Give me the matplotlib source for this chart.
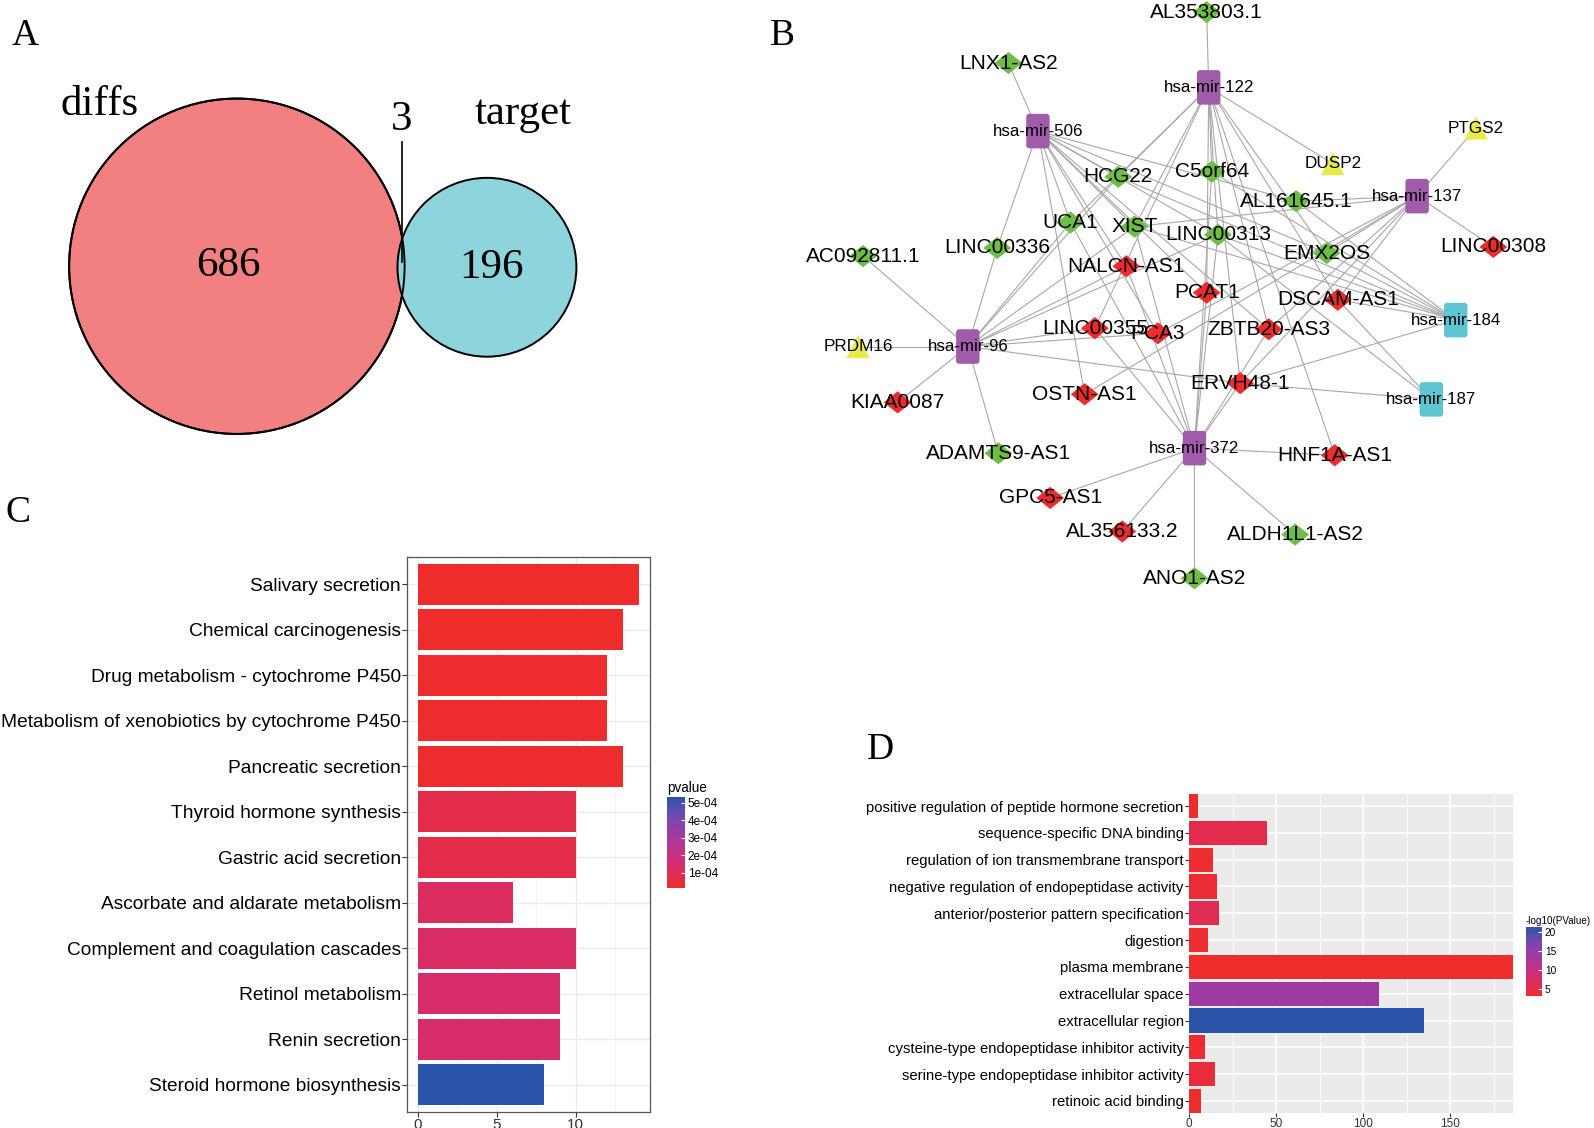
import numpy as np
import matplotlib
matplotlib.use('Agg')
import matplotlib.pyplot as plt
from matplotlib.colors import LinearSegmentedColormap, Normalize
from matplotlib.path import Path
from matplotlib.patches import Circle, FancyBboxPatch
import matplotlib.cm as cm
from matplotlib import font_manager as fm

# ------------------------------------------------------------------ data
venn_names = ['diffs', 'target']
venn_only = [686, 196]
venn_shared = 3

kegg_terms = ['Salivary secretion', 'Chemical carcinogenesis',
              'Drug metabolism - cytochrome P450',
              'Metabolism of xenobiotics by cytochrome P450',
              'Pancreatic secretion', 'Thyroid hormone synthesis',
              'Gastric acid secretion', 'Ascorbate and aldarate metabolism',
              'Complement and coagulation cascades', 'Retinol metabolism',
              'Renin secretion', 'Steroid hormone biosynthesis']
kegg_counts = [14, 13, 12, 12, 13, 10, 10, 6, 10, 9, 9, 8]
kegg_pvalue = [1.4e-5, 1.6e-5, 1.8e-5, 1.8e-5, 2.0e-5, 7.5e-5, 7.5e-5,
               1.2e-4, 1.3e-4, 1.4e-4, 1.45e-4, 5.34e-4]
kegg_ticks = [1e-4, 2e-4, 3e-4, 4e-4, 5e-4]
kegg_ticklabels = ['1e-04', '2e-04', '3e-04', '4e-04', '5e-04']

go_terms = ['positive regulation of peptide hormone secretion',
            'sequence-specific DNA binding',
            'regulation of ion transmembrane transport',
            'negative regulation of endopeptidase activity',
            'anterior/posterior pattern specification', 'digestion',
            'plasma membrane', 'extracellular space', 'extracellular region',
            'cysteine-type endopeptidase inhibitor activity',
            'serine-type endopeptidase inhibitor activity',
            'retinoic acid binding']
go_counts = [5, 44.5, 14, 16, 17, 11, 186, 109, 135, 9, 15, 7]
go_logp = [3.4, 5.4, 3.5, 3.9, 5.9, 3.5, 3.2, 14.0, 21.3, 3.6, 4.3, 3.4]
go_ticks = [5, 10, 15, 20]

mirna_purple = ['hsa-mir-122', 'hsa-mir-506', 'hsa-mir-137', 'hsa-mir-96',
                'hsa-mir-372']
mirna_cyan = ['hsa-mir-184', 'hsa-mir-187']
lnc_green = ['AL353803.1', 'LNX1-AS2', 'HCG22', 'C5orf64', 'UCA1', 'XIST',
             'AL161645.1', 'LINC00313', 'LINC00336', 'AC092811.1', 'EMX2OS',
             'ADAMTS9-AS1', 'ALDH1L1-AS2', 'ANO1-AS2']
lnc_red = ['NALCN-AS1', 'PCAT1', 'DSCAM-AS1', 'LINC00308', 'LINC00355',
           'PCA3', 'ZBTB20-AS3', 'KIAA0087', 'OSTN-AS1', 'ERVH48-1',
           'HNF1A-AS1', 'GPC5-AS1', 'AL356133.2']
mrna_yellow = ['PTGS2', 'DUSP2', 'PRDM16']

edges = {
    'hsa-mir-122': ['AL353803.1', 'HCG22', 'UCA1', 'XIST', 'C5orf64',
                    'LINC00313', 'PCAT1', 'ERVH48-1', 'ZBTB20-AS3',
                    'DSCAM-AS1', 'EMX2OS', 'DUSP2', 'HNF1A-AS1', 'LINC00355'],
    'hsa-mir-506': ['LNX1-AS2', 'LINC00336', 'HCG22', 'UCA1', 'XIST',
                    'NALCN-AS1', 'PCA3', 'OSTN-AS1', 'PCAT1', 'ZBTB20-AS3',
                    'EMX2OS', 'AL161645.1', 'LINC00313'],
    'hsa-mir-137': ['PTGS2', 'LINC00308', 'AL161645.1', 'XIST', 'EMX2OS',
                    'DSCAM-AS1', 'ZBTB20-AS3', 'PCA3', 'OSTN-AS1', 'ERVH48-1'],
    'hsa-mir-96': ['PRDM16', 'KIAA0087', 'ADAMTS9-AS1', 'AC092811.1',
                   'LINC00336', 'UCA1', 'HCG22', 'NALCN-AS1', 'LINC00355',
                   'PCA3', 'ERVH48-1', 'LINC00313', 'XIST'],
    'hsa-mir-372': ['GPC5-AS1', 'AL356133.2', 'ANO1-AS2', 'ALDH1L1-AS2',
                    'HNF1A-AS1', 'ERVH48-1', 'PCAT1', 'NALCN-AS1', 'XIST',
                    'UCA1', 'LINC00313', 'C5orf64', 'LINC00355', 'ZBTB20-AS3'],
    'hsa-mir-184': ['XIST', 'HCG22', 'LINC00313', 'EMX2OS', 'DSCAM-AS1',
                    'ERVH48-1', 'C5orf64', 'AL161645.1'],
    'hsa-mir-187': ['ERVH48-1', 'DSCAM-AS1', 'LINC00313'],
}

# network layout (canvas pixel coordinates of the original figure)
layout = {
    'hsa-mir-122': (1189, 86), 'hsa-mir-506': (1021, 129),
    'hsa-mir-137': (1394, 193), 'hsa-mir-96': (952, 341),
    'hsa-mir-372': (1175, 441), 'hsa-mir-184': (1432, 315),
    'hsa-mir-187': (1408, 393),
    'AL353803.1': (1187, 12), 'LNX1-AS2': (992, 62), 'HCG22': (1100, 174),
    'C5orf64': (1192, 169), 'UCA1': (1053, 219), 'XIST': (1116, 223),
    'AL161645.1': (1275, 198), 'LINC00313': (1198, 231),
    'LINC00336': (981, 244), 'AC092811.1': (849, 252), 'EMX2OS': (1305, 249),
    'ADAMTS9-AS1': (982, 446), 'ALDH1L1-AS2': (1274, 526),
    'ANO1-AS2': (1175, 569),
    'NALCN-AS1': (1108, 262), 'PCAT1': (1187, 288), 'DSCAM-AS1': (1316, 295),
    'LINC00308': (1469, 243), 'LINC00355': (1077, 323), 'PCA3': (1139, 328),
    'ZBTB20-AS3': (1248, 324), 'KIAA0087': (883, 396),
    'OSTN-AS1': (1067, 388), 'ERVH48-1': (1220, 377),
    'HNF1A-AS1': (1313, 448), 'GPC5-AS1': (1033, 490),
    'AL356133.2': (1104, 523),
    'PTGS2': (1452, 126), 'DUSP2': (1311, 161), 'PRDM16': (844, 341),
}

# ------------------------------------------------------------------ fonts
names = {f.name for f in fm.fontManager.ttflist}
if 'Liberation Sans Narrow' in names:
    NARROW = ['Liberation Sans Narrow', 'DejaVu Sans']
    nscale = 1.0
else:
    NARROW = ['Liberation Sans', 'DejaVu Sans']
    nscale = 0.81
SANS = ['Liberation Sans', 'DejaVu Sans']
SERIF = ['Liberation Serif', 'DejaVu Serif']

cmap = LinearSegmentedColormap.from_list(
    'rb', [(0.0, '#EE2C2C'), (0.3, '#D22C78'), (0.55, '#A8389F'),
           (0.78, '#7648B0'), (1.0, '#2B55A8')])

W, H = 1594, 1128
fig = plt.figure(figsize=(W / 100, H / 100), dpi=100)

# overlay canvas for Venn + network
ax0 = fig.add_axes([0, 0, 1, 1])
ax0.set_xlim(0, 1568)
ax0.set_ylim(1110, 0)
ax0.axis('off')

# panel letters
for lab, (x, y) in zip('ABCD', [(25, 35), (770, 35), (18, 505), (866, 738)]):
    ax0.text(x, y, lab, fontsize=27, family=SERIF, ha='center', va='center')

# ------------------------------------------------------------------ Venn
c1 = Circle((233, 262), 165, fc='#F28080', ec='black', lw=1.4, zorder=1)
c2 = Circle((479, 263), 88, fc='#8DD4DC', ec='black', lw=1.4, zorder=2)
c1e = Circle((233, 262), 165, fc='none', ec='black', lw=1.4, zorder=3)
for c in (c1, c2, c1e):
    ax0.add_patch(c)
ax0.text(98, 103, venn_names[0], fontsize=31, family=SERIF, ha='center', va='center')
ax0.text(515, 112, venn_names[1], fontsize=31, family=SERIF, ha='center', va='center')
ax0.text(225, 262, str(venn_only[0]), fontsize=31, family=SERIF, ha='center', va='center')
ax0.text(483, 263, str(venn_only[1]), fontsize=31, family=SERIF, ha='center', va='center')
ax0.text(395, 118, str(venn_shared), fontsize=31, family=SERIF, ha='center', va='center')
ax0.plot([395, 395], [140, 258], color='black', lw=1.2, zorder=4)

# ------------------------------------------------------------------ network
for m, targets in edges.items():
    for t in targets:
        x0, y0 = layout[m]
        x1, y1 = layout[t]
        ax0.plot([x0, x1], [y0, y1], color='#A8A8A8', lw=0.8, zorder=5)

diamond = Path([(0, 1), (1.25, 0), (0, -1), (-1.25, 0), (0, 1)],
               [Path.MOVETO, Path.LINETO, Path.LINETO, Path.LINETO, Path.CLOSEPOLY])
for group, col in [(lnc_green, '#6DBE45'), (lnc_red, '#EE2C2C')]:
    xs = [layout[n][0] for n in group]
    ys = [layout[n][1] for n in group]
    ax0.scatter(xs, ys, marker=diamond, s=400, c=col, edgecolors='none', zorder=6)
    for n in group:
        ax0.text(layout[n][0], layout[n][1], n, fontsize=15, family=SANS,
                 ha='center', va='center', zorder=8)

xs = [layout[n][0] for n in mrna_yellow]
ys = [layout[n][1] for n in mrna_yellow]
ax0.scatter(xs, ys, marker='^', s=280, c='#E9E94B', edgecolors='none', zorder=6)
for n in mrna_yellow:
    ax0.text(layout[n][0], layout[n][1], n, fontsize=12.3, family=SANS,
             ha='center', va='center', zorder=8)

for group, col in [(mirna_purple, '#A05BAA'), (mirna_cyan, '#5EC6D2')]:
    for n in group:
        x, y = layout[n]
        ax0.add_patch(FancyBboxPatch((x - 11.5, y - 17), 23, 34,
                                     boxstyle='round,pad=0,rounding_size=3',
                                     fc=col, ec='none', zorder=6))
        ax0.text(x, y, n, fontsize=12.2, family=SANS, ha='center',
                 va='center', zorder=8)

# ------------------------------------------------------------------ panel C
axC = fig.add_axes([407 / W, 1 - 1112 / H, (650 - 407) / W, (1112 - 557) / H])
normC = Normalize(vmin=1.4e-5, vmax=5.34e-4)
yC = np.arange(len(kegg_terms))
axC.barh(yC, kegg_counts, height=0.9, color=cmap(normC(np.array(kegg_pvalue))),
         zorder=3)
axC.set_xlim(-0.7, 14.7)
axC.set_ylim(len(kegg_terms) - 1 + 0.6, -0.6)
axC.set_yticks(yC)
axC.set_yticklabels(kegg_terms, fontsize=17 * nscale, family=NARROW, color='black')
axC.set_xticks([0, 5, 10])
axC.set_xticks([2.5, 7.5, 12.5], minor=True)
axC.set_xticklabels(['0', '5', '10'], fontsize=11, family=NARROW, color='#333333')
axC.grid(which='major', color='#EBEBEB', lw=1.0, zorder=0)
axC.grid(which='minor', axis='x', color='#F3F3F3', lw=0.6, zorder=0)
axC.set_axisbelow(True)
for sp in axC.spines.values():
    sp.set_color('#555555')
    sp.set_linewidth(0.9)
axC.tick_params(which='major', length=3.5, color='#333333', width=0.8, pad=0.8)
axC.tick_params(which='minor', length=0)

caxC = fig.add_axes([667 / W, 1 - 888 / H, 18 / W, 91 / H])
cbC = fig.colorbar(cm.ScalarMappable(norm=normC, cmap=cmap), cax=caxC)
cbC.outline.set_visible(False)
cbC.set_ticks(kegg_ticks)
cbC.set_ticklabels(kegg_ticklabels)
caxC.tick_params(direction='in', color='white', length=3, width=0.8,
                 labelsize=10.5 * nscale, pad=2)
for t in caxC.get_yticklabels():
    t.set_family(NARROW)
fig.text(667 / W, 1 - 795 / H, 'pvalue', fontsize=12 * nscale, family=NARROW,
         ha='left', va='bottom')

# ------------------------------------------------------------------ panel D
axD = fig.add_axes([1189 / W, 1 - 1113 / H, (1513 - 1189) / W, (1113 - 794) / H])
normD = Normalize(vmin=3.2, vmax=21.3)
yD = np.arange(len(go_terms))
axD.set_facecolor('#EBEBEB')
axD.barh(yD, go_counts, height=0.9, color=cmap(normD(np.array(go_logp))), zorder=3)
axD.set_xlim(0, 186)
axD.set_ylim(len(go_terms) - 1 + 0.45, -0.45)
axD.set_yticks(yD)
axD.set_yticklabels(go_terms, fontsize=13.2 * nscale, family=NARROW, color='black')
axD.set_xticks([0, 50, 100, 150])
axD.set_xticks([25, 75, 125, 175], minor=True)
axD.set_xticklabels(['0', '50', '100', '150'], fontsize=8.5, family=NARROW,
                    color='#333333')
axD.grid(which='major', color='white', lw=1.1, zorder=0)
axD.grid(which='minor', axis='x', color='white', lw=0.55, zorder=0)
axD.set_axisbelow(True)
for sp in axD.spines.values():
    sp.set_visible(False)
axD.tick_params(which='major', length=3, color='#333333', width=0.8, pad=0.8)
axD.tick_params(which='minor', length=0)

caxD = fig.add_axes([1526 / W, 1 - 996 / H, 16 / W, 69 / H])
cbD = fig.colorbar(cm.ScalarMappable(norm=normD, cmap=cmap), cax=caxD)
cbD.outline.set_visible(False)
cbD.set_ticks(go_ticks)
caxD.tick_params(direction='in', color='white', length=3, width=0.8,
                 labelsize=9 * nscale if nscale < 1 else 8, pad=2)
for t in caxD.get_yticklabels():
    t.set_family(NARROW)
fig.text(1526 / W, 1 - 926 / H, '-log10(PValue)', fontsize=8.8 * nscale,
         family=NARROW, ha='left', va='bottom')

fig.savefig('out.png', dpi=100)
